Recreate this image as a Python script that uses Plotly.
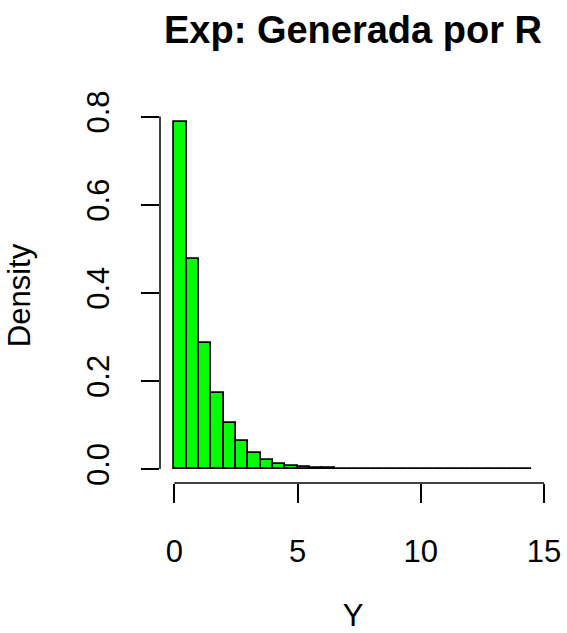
import plotly.graph_objects as go

# Histogram bins (width 0.5) and densities
bin_left = [i * 0.5 for i in range(29)]
density = [0.788, 0.477, 0.287, 0.173, 0.105, 0.063, 0.037, 0.021, 0.011, 0.006,
           0.004, 0.0025, 0.0015, 0.001, 0.0006, 0.0004, 0.0002, 0.0002, 0.0001, 0.0001,
           0.0, 0.0001, 0.0, 0.0, 0.0, 0.0, 0.0, 0.0, 0.0001]
bin_width = 0.5
x_ticks = [0, 5, 10, 15]
y_ticks = [0.0, 0.2, 0.4, 0.6, 0.8]
y_ticktext = ["0.0", "0.2", "0.4", "0.6", "0.8"]

centers = [b + bin_width / 2 for b in bin_left]
FONT = "Liberation Sans, Arial, Helvetica, sans-serif"

fig = go.Figure()
fig.add_trace(go.Bar(
    x=centers, y=density, width=bin_width,
    marker=dict(color="#00FF00", line=dict(color="black", width=1.8)),
    showlegend=False, hoverinfo="x+y",
))

fig.update_layout(
    width=567, height=633,
    margin=dict(l=160, r=21, t=108, b=150, autoexpand=False),
    paper_bgcolor="white", plot_bgcolor="white",
    bargap=0,
    font=dict(family=FONT, size=31, color="black"),
    title=dict(text="Exp: Generada por R", x=0.5, xref="paper",
               xanchor="center", y=1 - 30 / 633, yanchor="middle",
               font=dict(family=FONT, size=38, color="black", weight="bold")),
    xaxis=dict(range=[-0.58, 15.08], showgrid=False, zeroline=False, showline=False,
               automargin=False,
               tickvals=x_ticks, ticks="outside", ticklen=19, tickwidth=1.5, tickcolor="black",
               ticklabelstandoff=22,
               title=dict(text="Y", standoff=38, font=dict(size=31))),
    yaxis=dict(range=[-0.0315, 0.8195], showgrid=False, zeroline=False, showline=False,
               automargin=False,
               tickvals=y_ticks, ticktext=y_ticktext, tickangle=-90,
               ticks="outside", ticklen=18, tickwidth=1.5, tickcolor="black",
               ticklabelstandoff=20,
               title=dict(text="Density", standoff=40, font=dict(size=31))),
)

# axis lines spanning only the tick range, as in base R
fig.add_shape(type="line", xref="x", yref="paper", x0=0, x1=15, y0=0, y1=0,
              line=dict(color="black", width=1.5))
fig.add_shape(type="line", xref="paper", yref="y", x0=0, x1=0, y0=0, y1=0.8,
              line=dict(color="black", width=1.5))

fig.write_html("out.html", config={"displayModeBar": False},
               post_script="document.body.style.margin='0';document.body.style.padding='0';")
